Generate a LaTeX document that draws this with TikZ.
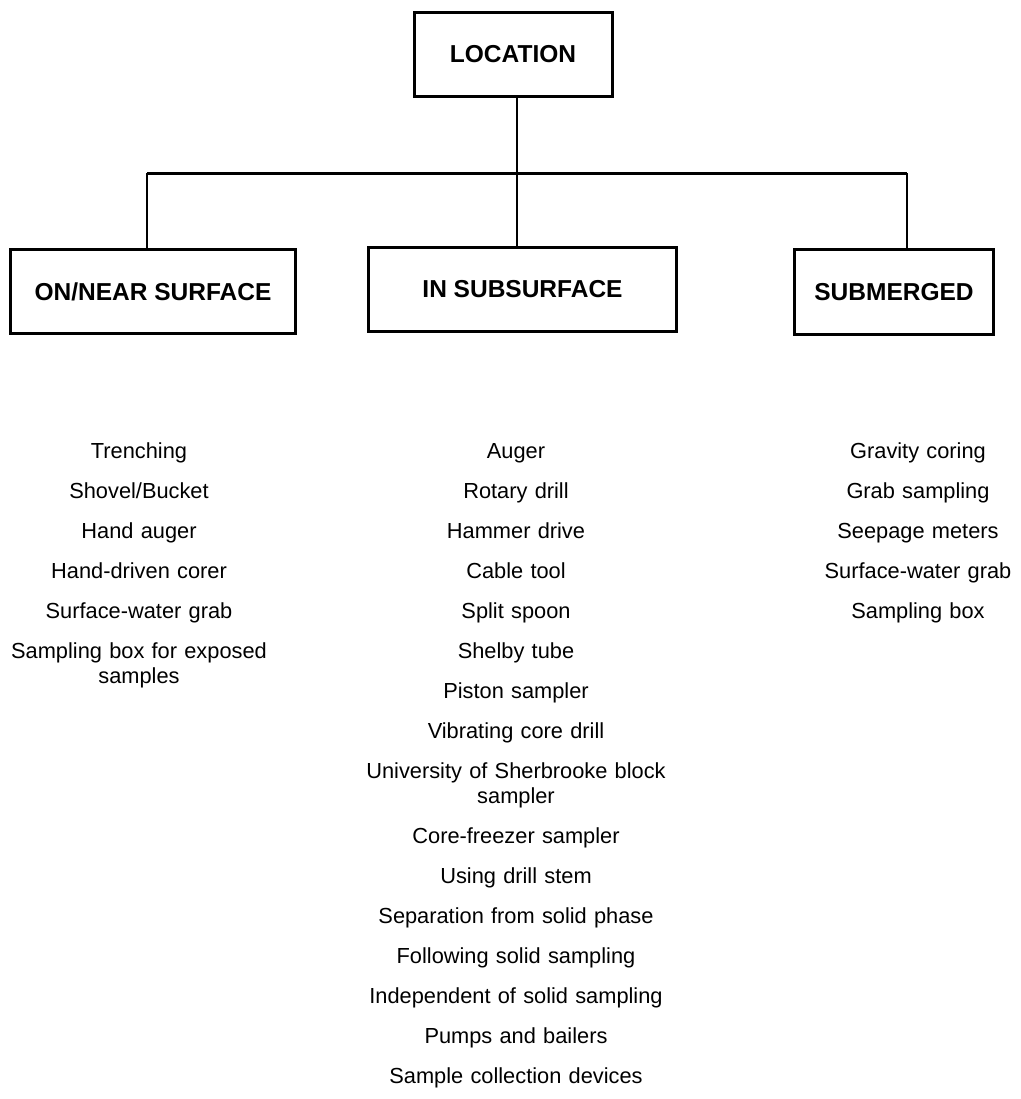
\documentclass[tikz,border=0pt]{standalone}
\usepackage{fontspec}
\setmainfont{Liberation Sans}
\begin{document}
\begin{tikzpicture}[
            x=0.5pt,
            y=-0.5pt,
            box/.style={
                rectangle,
                draw,
                line width=1.5pt,
                inner sep=0pt,
                minimum height=42.25pt,
                font=\fontsize{12.25}{14}\selectfont\bfseries
            },
            items/.style={
                anchor=base,
                inner sep=0pt,
                align=center,
                text width=200pt,
                font=\fontsize{10.9}{12.5}\selectfont
            },
            link/.style={line width=0.65pt},
            bus/.style={line width=1.5pt}
        ]
            \useasboundingbox (0,0) rectangle (1021,1099);

            \node[box, minimum width=99pt] (loc) at (513,54.5) {LOCATION};
            \node[box, minimum width=142.5pt] (surf) at (153,291.5) {ON/NEAR SURFACE};
            \node[box, minimum width=154pt] (subs) at (522.5,289.5) {IN SUBSURFACE};
            \node[box, minimum width=99.5pt] (subm) at (894,292) {SUBMERGED};

            \coordinate (busL) at (147,173);
            \coordinate (busR) at (907,173);
            \coordinate (busM) at (517,173);

            \draw[bus] (busL)--(busR);
            \draw[link] (loc.south -| busM)--(subs.north -| busM);
            \draw[link] (busL)--(surf.north -| busL);
            \draw[link] (busR)--(subm.north -| busR);

            \node[items] (surflist) at (139,458) {Trenching\\[7.5pt]
                Shovel/Bucket\\[7.5pt]
                Hand auger\\[7.5pt]
                Hand-driven corer\\[7.5pt]
                Surface-water grab\\[7.5pt]
                Sampling box for exposed\\
                samples};
            \node[items] (subslist) at (516,458) {Auger\\[7.5pt]
                Rotary drill\\[7.5pt]
                Hammer drive\\[7.5pt]
                Cable tool\\[7.5pt]
                Split spoon\\[7.5pt]
                Shelby tube\\[7.5pt]
                Piston sampler\\[7.5pt]
                Vibrating core drill\\[7.5pt]
                University of Sherbrooke block\\
                sampler\\[7.5pt]
                Core-freezer sampler\\[7.5pt]
                Using drill stem\\[7.5pt]
                Separation from solid phase\\[7.5pt]
                Following solid sampling\\[7.5pt]
                Independent of solid sampling\\[7.5pt]
                Pumps and bailers\\[7.5pt]
                Sample collection devices};
            \node[items] (submlist) at (918,458) {Gravity coring\\[7.5pt]
                Grab sampling\\[7.5pt]
                Seepage meters\\[7.5pt]
                Surface-water grab\\[7.5pt]
                Sampling box};
        \end{tikzpicture}
\end{document}
